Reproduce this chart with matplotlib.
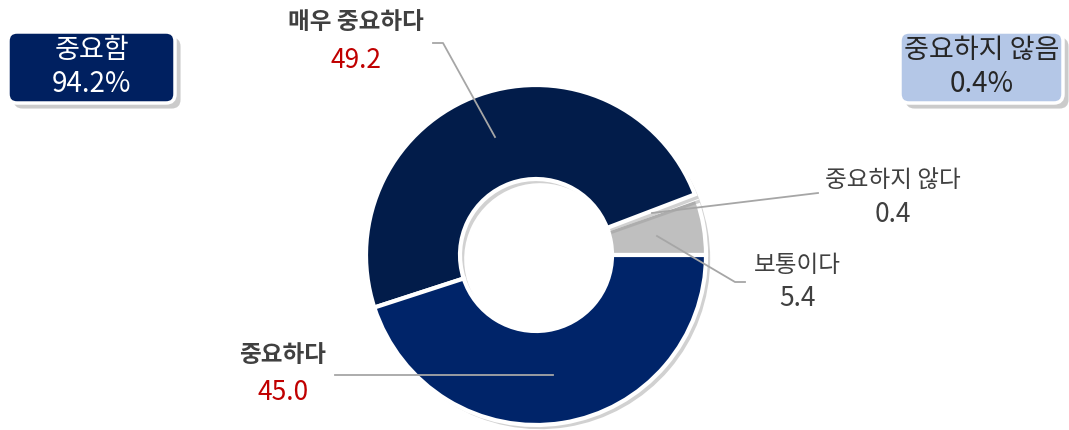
import matplotlib.pyplot as plt
import matplotlib.patheffects as pe
from matplotlib.patches import FancyBboxPatch

plt.rcParams['font.family'] = ['Noto Sans CJK KR', 'DejaVu Sans']

# slices, counter-clockwise from 3 o'clock
labels = ['보통이다', '중요하지 않다', '매우 중요하다', '중요하다']
values = [5.4, 0.4, 49.2, 45.0]
colors = ['#BFBFBF', '#FFFFFF', '#021C4A', '#002469']
value_colors = ['#404040', '#404040', '#C00000', '#C00000']
label_weights = ['normal', 'normal', 'bold', 'bold']

summary_labels = ['중요함', '중요하지 않음']
summary_values = [94.2, 0.4]

fig = plt.figure(figsize=(10.69, 4.30), dpi=100)
ax = fig.add_axes([0, 0, 1, 1])

cx, cy, r_out, r_in = 536, 255, 170, 76
wedges, _ = ax.pie(values, colors=colors, center=(cx, cy), radius=r_out,
                   startangle=0, counterclock=False, frame=True,
                   wedgeprops=dict(width=r_out - r_in, edgecolor='white', linewidth=3))
for w in wedges:
    w.set_path_effects([pe.SimplePatchShadow(offset=(3, -3), shadow_rgbFace='#999999', alpha=0.45),
                        pe.Normal()])
ax.set_xlim(0, 1069)
ax.set_ylim(430, 0)
ax.set_aspect('equal')
ax.axis('off')

line_kw = dict(color='#A6A6A6', lw=1.3, zorder=5)
# leader lines (pixel positions)
ax.plot([433, 443, 495], [43, 43, 137], **line_kw)
ax.plot([335, 553], [375, 375], **line_kw)
ax.plot([818, 652], [193, 213], **line_kw)
ax.plot([657, 735, 745], [236, 282, 282], **line_kw)

label_pos = [(797, 265, 298), (893, 180, 214), (356, 22, 60), (283, 355, 392)]
for lab, val, vc, wt, (x, y1, y2) in zip(labels, values, value_colors, label_weights, label_pos):
    ax.text(x, y1, lab, ha='center', va='center', fontsize=17, color='#404040', fontweight=wt)
    ax.text(x, y2, f'{val:.1f}', ha='center', va='center', fontsize=19, color=vc)

# summary boxes
boxes = [(8, 32, 167, 71, '#002060', 'white'), (900, 32, 163, 71, '#B4C7E7', '#262626')]
for (bx, by, bw, bh, fc, tc), lab, val in zip(boxes, summary_labels, summary_values):
    box = FancyBboxPatch((bx, by), bw, bh, boxstyle='round,pad=0,rounding_size=9',
                         facecolor=fc, edgecolor='white', linewidth=2.5, zorder=6)
    box.set_path_effects([pe.SimplePatchShadow(offset=(4, -4), shadow_rgbFace='#999999', alpha=0.5),
                          pe.Normal()])
    ax.add_patch(box)
    ax.text(bx + bw / 2, by + 18, lab, ha='center', va='center', fontsize=19.5, color=tc, zorder=7)
    ax.text(bx + bw / 2, by + 52, f'{val}%', ha='center', va='center', fontsize=20, color=tc, zorder=7)

fig.savefig('out.png', dpi=100, facecolor='white')
